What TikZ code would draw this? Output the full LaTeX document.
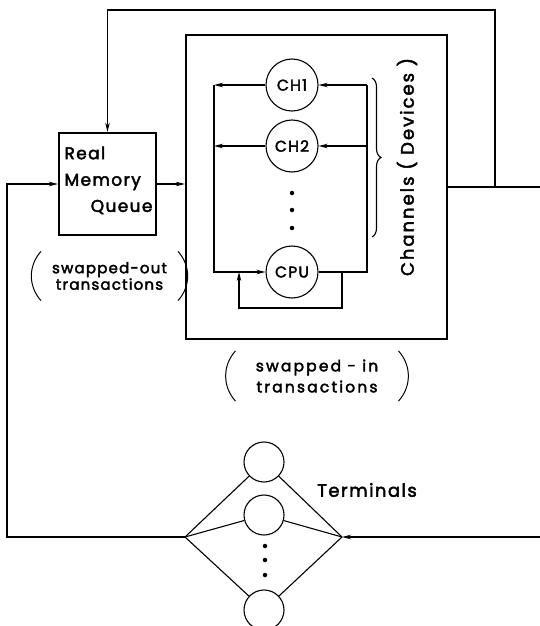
\documentclass[tikz,border=0pt]{standalone}
\usepackage{fontspec}
\setmainfont{Poppins}[LetterSpace=8,FakeBold=2.5]
\usetikzlibrary{arrows.meta,decorations.pathreplacing}

\begin{document}
\begin{tikzpicture}[x=1pt,y=-1pt,line width=1.1pt,>={Stealth[length=9pt,width=4.5pt]},
  heavy/.style={draw,line width=2.4pt},
  chan/.style={draw,circle,minimum size=52pt,inner sep=0pt,font=\fontsize{15.5}{16}\selectfont},
  term/.style={draw,circle,minimum size=40pt,inner sep=0pt},
  dotmark/.style={circle,fill,inner sep=0pt,minimum size=4.5pt},
  lbl/.style={font=\fontsize{17}{17}\selectfont,inner sep=0pt},
  paren/.style={align=center,inner ysep=0pt,font=\fontsize{15}{16.5}\selectfont},
  arcline/.style={line width=1pt}]
\useasboundingbox (0,0) rectangle (540,626);

\node[heavy,minimum width=97pt,minimum height=102pt] (mem) at (107.5,184) {};
\node[heavy,minimum width=261pt,minimum height=304pt] (sys) at (316.5,187) {};

\node[lbl,anchor=west] (mem1) at (64,153) {Real};
\node[lbl,anchor=west] (mem2) at (64,182) {Memory};
\node[lbl,anchor=east] (mem3) at (153,207) {Queue};

\node[chan] (ch1) at (292,85) {CH1};
\node[chan] (ch2) at (292,146) {CH2};
\node[chan] (cpu) at (292,272) {CPU};
\node[dotmark] (d1) at (292,193) {};
\node[dotmark] (d2) at (292,210) {};
\node[dotmark] (d3) at (292,228) {};

\node[term] (t1) at (264,462) {};
\node[term] (t2) at (264,515) {};
\node[term] (tn) at (264,610) {};
\node[dotmark] (e1) at (265,546) {};
\node[dotmark] (e2) at (265,560) {};
\node[dotmark] (e3) at (265,575) {};

\node[lbl,rotate=90,font=\fontsize{18}{18}\selectfont\addfontfeature{LetterSpace=11}] (chlab) at (407,167) {Channels ( Devices )};
\node[lbl,font=\fontsize{18}{18}\selectfont] (termlab) at (367,490) {Terminals};
\node[paren,minimum width=136pt,minimum height=48pt] (outlab) at (109.5,276) {swapped-out\\transactions};
\node[paren,minimum width=162pt,minimum height=49pt,font=\fontsize{15.5}{21}\selectfont\addfontfeature{LetterSpace=14}] (inlab) at (317,376) {swapped - in\\transactions};

\coordinate (lv) at (214,272);
\coordinate (rv) at (367,85);
\coordinate (lpr) at (342,272);
\coordinate (lpl) at (239,308);
\coordinate (fbj) at (495,187);
\coordinate (topr) at (495,10);
\coordinate (oute) at (540,187);
\coordinate (tl) at (185,537);
\coordinate (tr) at (342,537);
\coordinate (tin) at (540,537);
\coordinate (lft) at (7,537);
\coordinate (brt) at (372,78);
\coordinate (brb) at (372,237);

\draw[->] (mem.east) -- (mem.east -| sys.west);
\draw (sys.east) -- (oute);
\draw[->] (fbj) -- (topr) -| (mem.north);
\draw[->] (tl) -- (lft) |- (mem.west);
\draw[->] (tin) -- (tr);

\draw (cpu.east) -| (rv);
\draw[->] (rv) -- (ch1.east);
\draw[->] (rv |- ch2) -- (ch2.east);
\draw[->] (ch1.west) -- (ch1.west -| lv);
\draw[->] (ch2.west) -- (ch2.west -| lv);
\draw[->] (ch1.west -| lv) |- (cpu.west);
\draw[->] (lpr) |- (lpl) -- (lpl |- cpu.west);

\draw (tl) -- (t1);
\draw (tl) -- (t2);
\draw (tl) -- (tn);
\draw (tr) -- (t1);
\draw (tr) -- (t2);
\draw (tr) -- (tn);

\draw[decorate,decoration={brace,amplitude=9pt}] (brt) -- (brb);
\draw[arcline] (outlab.north west) to[bend right=42] (outlab.south west);
\draw[arcline] (outlab.north east) to[bend left=42] (outlab.south east);
\draw[arcline] (inlab.north west) to[bend right=42] (inlab.south west);
\draw[arcline] (inlab.north east) to[bend left=42] (inlab.south east);
\end{tikzpicture}
\end{document}
